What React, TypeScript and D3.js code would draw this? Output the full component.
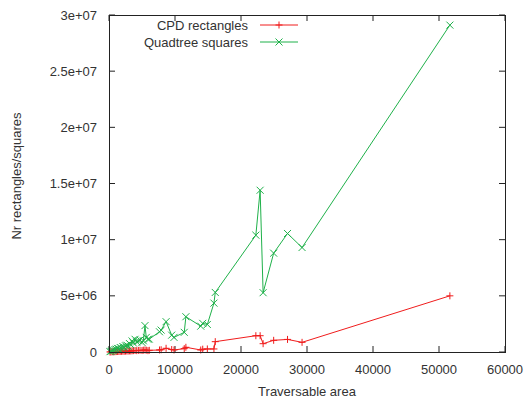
import React from 'react';
import * as d3 from 'd3';

// traversable area of each map (shared by both series)
const areas = [
  150, 300, 500, 700, 900, 1100, 1300, 1500, 1700, 1900, 2100, 2300, 2500, 2700, 2900,
  3100, 3300, 3500, 3700, 3950, 4200, 4450, 4700, 5000, 5200, 5450, 5650, 5900, 6100,
  7650, 7900, 8650, 9500, 9850, 11400, 11650, 13900, 14200, 14900, 15900, 16100,
  22250, 22900, 23350, 24950, 27050, 29250, 51650,
];

const cpdRectangles = [
  5000, 10000, 20000, 25000, 30000, 40000, 45000, 50000, 55000, 60000, 70000, 65000, 80000, 90000, 85000,
  100000, 95000, 110000, 120000, 130000, 120000, 140000, 150000, 130000, 160000, 180000, 160000, 120000, 150000,
  180000, 200000, 330000, 220000, 180000, 300000, 420000, 180000, 250000, 270000, 270000, 920000,
  1450000, 1450000, 740000, 1040000, 1120000, 860000, 5000000,
];

const quadtreeSquares = [
  30000, 60000, 120000, 150000, 220000, 250000, 320000, 280000, 400000, 350000, 480000, 420000, 550000, 600000, 520000,
  750000, 650000, 980000, 800000, 1130000, 900000, 1000000, 1070000, 850000, 1000000, 2350000, 1300000, 1130000, 1150000,
  1800000, 1950000, 2700000, 1500000, 1300000, 1750000, 3140000, 2300000, 2550000, 2450000, 4350000, 5300000,
  10400000, 14400000, 5280000, 8800000, 10550000, 9300000, 29100000,
];

const xTicks = [0, 10000, 20000, 30000, 40000, 50000, 60000];
const yTicks = [0, 5e6, 1e7, 1.5e7, 2e7, 2.5e7, 3e7];
const yTickLabels = ['0', '5e+06', '1e+07', '1.5e+07', '2e+07', '2.5e+07', '3e+07'];

const seriesNames = ['CPD rectangles', 'Quadtree squares'];
const seriesColors = ['#f01c1c', '#1fb14a'];

const W = 524;
const H = 401;
const margin = { top: 15, right: 19, bottom: 49, left: 109 };

export default function App() {
  const x = d3.scaleLinear().domain([0, 60000]).range([margin.left, W - margin.right]);
  const y = d3.scaleLinear().domain([0, 3e7]).range([H - margin.bottom, margin.top]);
  const x0 = x.range()[0], x1 = x.range()[1];
  const y0 = y.range()[0], y1 = y.range()[1];

  const series = [cpdRectangles, quadtreeSquares];
  const line = d3.line<number>().x((_, i) => x(areas[i])).y(d => y(d));

  const font = "'Liberation Sans', Arial, sans-serif";
  const fs = 13;
  const tickLen = 6;

  const marker = (kind: number, cx: number, cy: number, color: string, key: string | number) => {
    const s = 3.5;
    if (kind === 0) {
      return (
        <path key={key} d={`M${cx - s},${cy}H${cx + s}M${cx},${cy - s}V${cy + s}`} stroke={color} strokeWidth={1} fill="none" />
      );
    }
    return (
      <path key={key} d={`M${cx - s},${cy - s}L${cx + s},${cy + s}M${cx - s},${cy + s}L${cx + s},${cy - s}`} stroke={color} strokeWidth={1} fill="none" />
    );
  };

  return (
    <svg width={W} height={H} style={{ position: 'absolute', left: 0, top: 0, background: '#fff' }} fontFamily={font}>
      {/* ticks on all four sides */}
      {xTicks.map(t => (
        <g key={'xt' + t}>
          <line x1={x(t)} x2={x(t)} y1={y0} y2={y0 - tickLen} stroke="#222" />
          <line x1={x(t)} x2={x(t)} y1={y1} y2={y1 + tickLen} stroke="#222" />
          <text x={x(t)} y={y0 + 22} textAnchor="middle" fontSize={fs} fill="#333">{t}</text>
        </g>
      ))}
      {yTicks.map((t, i) => (
        <g key={'yt' + t}>
          <line x1={x0} x2={x0 + tickLen} y1={y(t)} y2={y(t)} stroke="#222" />
          <line x1={x1} x2={x1 - tickLen} y1={y(t)} y2={y(t)} stroke="#222" />
          <text x={x0 - 12} y={y(t) + 4.5} textAnchor="end" fontSize={fs} fill="#333">{yTickLabels[i]}</text>
        </g>
      ))}

      {/* series */}
      {series.map((vals, si) => (
        <g key={'s' + si}>
          <path d={line(vals) || ''} fill="none" stroke={seriesColors[si]} strokeWidth={1} />
          {vals.map((v, i) => marker(si, x(areas[i]), y(v), seriesColors[si], i))}
        </g>
      ))}

      {/* frame */}
      <rect x={x0 + 0.5} y={y1 + 0.5} width={x1 - x0} height={y0 - y1} fill="none" stroke="#222" strokeWidth={1} />

      {/* legend */}
      {seriesNames.map((name, si) => {
        const ly = 25 + si * 17;
        return (
          <g key={'lg' + si}>
            <text x={248} y={ly + 4.5} textAnchor="end" fontSize={fs} fill="#333">{name}</text>
            <line x1={260} x2={298} y1={ly} y2={ly} stroke={seriesColors[si]} />
            {marker(si, 279, ly, seriesColors[si], 'm')}
          </g>
        );
      })}

      {/* axis titles */}
      <text x={(x0 + x1) / 2} y={396} textAnchor="middle" fontSize={fs} fill="#333">Traversable area</text>
      <text transform={`translate(21,176) rotate(-90)`} textAnchor="middle" fontSize={fs} fill="#333">Nr rectangles/squares</text>
    </svg>
  );
}
